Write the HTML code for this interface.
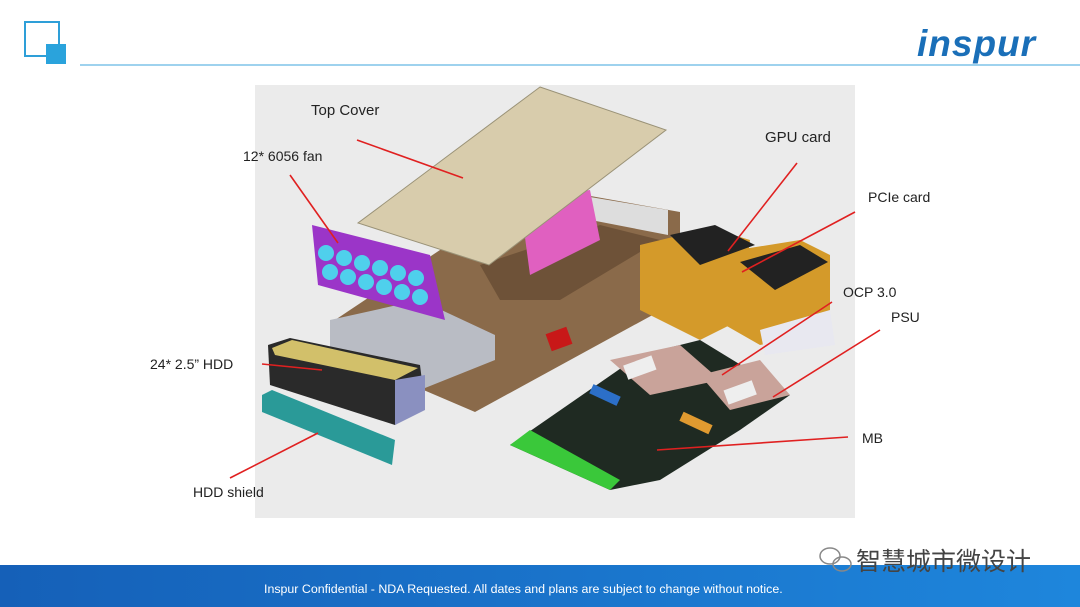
<!DOCTYPE html>
<html><head><meta charset="utf-8"><style>
body{margin:0;width:1080px;height:607px;overflow:hidden;background:#fff;font-family:"Liberation Sans",sans-serif;position:relative}
.lbl{position:absolute;font-size:14px;color:#222;white-space:nowrap}
</style></head><body>
<svg width="1080" height="607" style="position:absolute;left:0;top:0">
<defs><linearGradient id="ft" x1="0" x2="1"><stop offset="0" stop-color="#1560b8"/><stop offset="1" stop-color="#1e86dc"/></linearGradient></defs>
<rect x="25" y="22" width="34" height="34" fill="none" stroke="#2e9fd8" stroke-width="2"/>
<rect x="46" y="44" width="20" height="20" fill="#2aa3dc"/>
<line x1="80" y1="65" x2="1080" y2="65" stroke="#7fc4e8" stroke-width="1.5"/>
<text x="917" y="56" font-family="Liberation Sans" font-weight="bold" font-style="italic" font-size="37" fill="#1a6fb8" letter-spacing="1">inspur</text>
<rect x="255" y="85" width="600" height="433" fill="#ebebeb"/>
<polygon points="440,250 585,195 680,212 680,300 475,412 330,350 335,320" fill="#8a6a4a"/>
<polygon points="480,265 600,225 660,240 560,300 500,300" fill="#6e5238"/>
<polygon points="560,192 668,210 668,235 565,215" fill="#ddd"/>
<polygon points="520,200 590,190 600,240 530,275" fill="#e060c0"/>
<rect x="548" y="330" width="22" height="18" fill="#c81818" transform="rotate(-20 559 339)"/>
<polygon points="330,320 420,300 495,335 495,360 420,390 330,350" fill="#b9bcc4"/>
<polygon points="540,87 666,130 489,265 358,223" fill="#d8ccac" stroke="#9a9277"/>
<polygon points="312,225 430,255 445,320 318,285" fill="#9b35c8"/>
<g fill="#4fd0ec">
<circle cx="326" cy="253" r="8"/><circle cx="344" cy="258" r="8"/><circle cx="362" cy="263" r="8"/><circle cx="380" cy="268" r="8"/><circle cx="398" cy="273" r="8"/><circle cx="416" cy="278" r="8"/>
<circle cx="330" cy="272" r="8"/><circle cx="348" cy="277" r="8"/><circle cx="366" cy="282" r="8"/><circle cx="384" cy="287" r="8"/><circle cx="402" cy="292" r="8"/><circle cx="420" cy="297" r="8"/>
</g>
<polygon points="268,345 290,338 420,365 425,405 395,425 270,385" fill="#2a2a2a"/>
<polygon points="272,348 292,340 418,368 395,380 275,355" fill="#d2c06a"/>
<polygon points="395,380 425,375 425,410 395,425" fill="#8a90c0"/>
<polygon points="262,395 272,390 395,440 392,465 262,412" fill="#2a9a98"/>
<polygon points="640,245 710,228 750,240 740,320 700,340 640,310" fill="#d49a2a"/>
<polygon points="725,252 800,240 830,255 830,330 760,345 725,325" fill="#d49a2a"/>
<polygon points="670,235 715,225 755,245 700,265" fill="#222"/>
<polygon points="740,262 800,245 828,262 775,290" fill="#222"/>
<polygon points="760,330 830,310 835,345 765,355" fill="#e8e8f0"/>
<polygon points="510,445 640,355 700,340 790,395 740,430 660,480 610,490" fill="#1f2a22"/>
<polygon points="510,445 530,430 620,480 610,490" fill="#3ac83a"/>
<polygon points="610,360 680,345 720,380 650,395" fill="#c9a39a"/>
<polygon points="700,375 760,360 790,395 730,410" fill="#c9a39a"/>
<rect x="625" y="360" width="30" height="15" fill="#eee" transform="rotate(-20 640 368)"/>
<rect x="725" y="385" width="30" height="15" fill="#eee" transform="rotate(-20 740 392)"/>
<rect x="590" y="390" width="30" height="10" fill="#2c6fc8" transform="rotate(25 605 395)"/>
<rect x="680" y="418" width="32" height="10" fill="#e09a30" transform="rotate(25 696 423)"/>
<g stroke="#e02020" stroke-width="1.6">
<line x1="357" y1="140" x2="463" y2="178"/>
<line x1="290" y1="175" x2="338" y2="243"/>
<line x1="797" y1="163" x2="728" y2="251"/>
<line x1="855" y1="212" x2="742" y2="272"/>
<line x1="832" y1="302" x2="722" y2="375"/>
<line x1="880" y1="330" x2="773" y2="397"/>
<line x1="848" y1="437" x2="657" y2="450"/>
<line x1="262" y1="364" x2="322" y2="370"/>
<line x1="230" y1="478" x2="318" y2="433"/>
</g>
<rect x="0" y="565" width="1080" height="42" fill="url(#ft)"/>
<g fill="none" stroke="#888" stroke-width="1.5">
<ellipse cx="830" cy="556" rx="10" ry="8"/><ellipse cx="842" cy="564" rx="9" ry="7"/>
</g>
</svg>
<div class="lbl" style="left:311px;top:102px;font-size:15px">Top Cover</div>
<div class="lbl" style="left:243px;top:148px">12* 6056 fan</div>
<div class="lbl" style="left:765px;top:129px;font-size:15px">GPU card</div>
<div class="lbl" style="left:868px;top:189px">PCIe card</div>
<div class="lbl" style="left:843px;top:284px">OCP 3.0</div>
<div class="lbl" style="left:891px;top:309px">PSU</div>
<div class="lbl" style="left:150px;top:356px">24* 2.5” HDD</div>
<div class="lbl" style="left:862px;top:430px">MB</div>
<div class="lbl" style="left:193px;top:484px">HDD shield</div>
<div class="lbl" style="left:856px;top:542px;font-size:25px;color:#444;font-family:'Liberation Sans','Noto Sans CJK SC',sans-serif">智慧城市微设计</div>
<div class="lbl" style="left:264px;top:582px;font-size:12.4px;color:#fff">Inspur Confidential - NDA Requested. All dates and plans are subject to change without notice.</div>
</body></html>
